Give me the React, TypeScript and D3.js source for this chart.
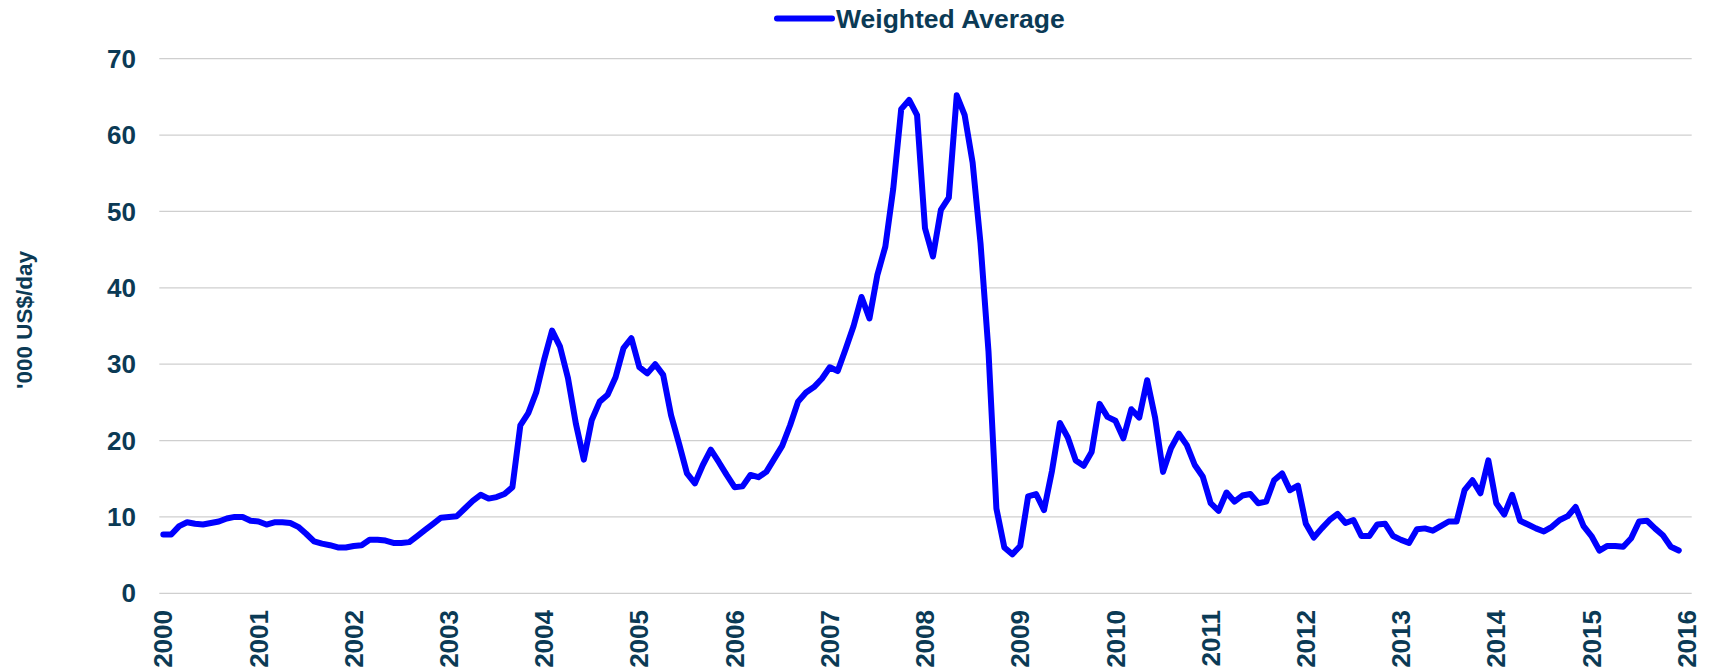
import React, { useEffect, useRef } from "react";
import * as d3 from "d3";

// Monthly weighted average earnings, '000 US$/day, Jan 2000 - Dec 2015
const weightedAverage: number[] = [
  // 2000
  7.7, 7.7, 8.8, 9.3, 9.1, 9.0, 9.2, 9.4, 9.8, 10.0, 10.0, 9.5,
  // 2001
  9.4, 9.0, 9.3, 9.3, 9.2, 8.7, 7.8, 6.8, 6.5, 6.3, 6.0, 6.0,
  // 2002
  6.2, 6.3, 7.0, 7.0, 6.9, 6.6, 6.6, 6.7, 7.5, 8.3, 9.1, 9.9,
  // 2003
  10.0, 10.1, 11.1, 12.1, 12.9, 12.4, 12.6, 13.0, 13.9, 22.0, 23.6, 26.3,
  // 2004
  30.6, 34.4, 32.3, 28.2, 22.2, 17.5, 22.7, 25.1, 26.0, 28.3, 32.1, 33.4,
  // 2005
  29.6, 28.8, 30.0, 28.6, 23.3, 19.6, 15.7, 14.4, 16.8, 18.8, 17.2, 15.5,
  // 2006
  13.9, 14.0, 15.5, 15.2, 15.9, 17.6, 19.3, 22.0, 25.1, 26.3, 27.0, 28.1,
  // 2007
  29.6, 29.1, 32.0, 35.0, 38.8, 36.0, 41.7, 45.4, 53.0, 63.4, 64.6, 62.6,
  // 2008
  47.8, 44.1, 50.2, 51.8, 65.2, 62.6, 56.4, 45.8, 31.7, 11.1, 6.0, 5.1,
  // 2009
  6.2, 12.7, 13.0, 10.9, 16.0, 22.3, 20.4, 17.4, 16.7, 18.5, 24.8, 23.1,
  // 2010
  22.6, 20.3, 24.1, 23.0, 27.9, 23.0, 15.9, 19.0, 20.9, 19.4, 16.8, 15.3,
  // 2011
  11.8, 10.8, 13.2, 12.0, 12.8, 13.0, 11.8, 12.0, 14.8, 15.7, 13.5, 14.1,
  // 2012
  9.1, 7.3, 8.5, 9.6, 10.4, 9.2, 9.6, 7.5, 7.5, 9.0, 9.1, 7.5,
  // 2013
  7.0, 6.6, 8.4, 8.5, 8.2, 8.8, 9.4, 9.4, 13.5, 14.8, 13.1, 17.4,
  // 2014
  11.8, 10.3, 12.9, 9.5, 9.0, 8.5, 8.1, 8.7, 9.6, 10.1, 11.3, 8.8,
  // 2015
  7.5, 5.6, 6.2, 6.2, 6.1, 7.2, 9.4, 9.5, 8.5, 7.6, 6.1, 5.6,
];

const yearLabels = [
  "2000", "2001", "2002", "2003", "2004", "2005", "2006", "2007", "2008",
  "2009", "2010", "2011", "2012", "2013", "2014", "2015", "2016",
];
const yTicks = [0, 10, 20, 30, 40, 50, 60, 70];
const seriesName = "Weighted Average";
const yTitle = "'000 US$/day";

const W = 1712;
const H = 671;
const textColor = "#0b3a55";
const lineColor = "#0000ff";
const font = "'Liberation Sans', Arial, sans-serif";

const App: React.FC = () => {
  const svgRef = useRef<SVGSVGElement>(null);

  useEffect(() => {
    const svg = d3.select(svgRef.current);
    svg.selectAll("*").remove();

    const plotLeft = 159.3;
    const plotRight = 1691.7;

    // months since Jan 2000; 2016 label sits at month 192
    const x = d3.scaleLinear().domain([0, 192]).range([163.3, 1686.7]);
    const y = d3.scaleLinear().domain([0, 70]).range([593.3, 58.7]);

    // Gridlines
    svg
      .append("g")
      .selectAll("line")
      .data(yTicks)
      .join("line")
      .attr("x1", plotLeft)
      .attr("x2", plotRight)
      .attr("y1", (d) => y(d))
      .attr("y2", (d) => y(d))
      .attr("stroke", "#cfcfcf")
      .attr("stroke-width", 1.3);

    // Y tick labels
    svg
      .append("g")
      .selectAll("text")
      .data(yTicks)
      .join("text")
      .attr("x", 136)
      .attr("y", (d) => y(d))
      .attr("dy", "0.35em")
      .attr("text-anchor", "end")
      .style("font-family", font)
      .style("font-weight", "bold")
      .style("font-size", "26px")
      .attr("fill", textColor)
      .text((d) => d);

    // X tick labels (rotated)
    svg
      .append("g")
      .selectAll("text")
      .data(yearLabels)
      .join("text")
      .attr("transform", (_, i) => `translate(${x(i * 12)},610) rotate(-90)`)
      .attr("dy", "0.35em")
      .attr("text-anchor", "end")
      .style("font-family", font)
      .style("font-weight", "bold")
      .style("font-size", "26px")
      .attr("fill", textColor)
      .text((d) => d);

    // Y axis title
    svg
      .append("text")
      .attr("transform", "translate(24,320) rotate(-90)")
      .attr("dy", "0.35em")
      .attr("text-anchor", "middle")
      .style("font-family", font)
      .style("font-weight", "bold")
      .style("font-size", "22.5px")
      .attr("fill", textColor)
      .text(yTitle);

    // Series line
    const line = d3
      .line<number>()
      .x((_, i) => x(i))
      .y((d) => y(d));

    svg
      .append("path")
      .datum(weightedAverage)
      .attr("d", line)
      .attr("fill", "none")
      .attr("stroke", lineColor)
      .attr("stroke-width", 6)
      .attr("stroke-linejoin", "round")
      .attr("stroke-linecap", "round");

    // Legend
    const legend = svg.append("g").attr("transform", "translate(777,18.6)");
    legend
      .append("line")
      .attr("x1", 0)
      .attr("x2", 55)
      .attr("stroke", lineColor)
      .attr("stroke-width", 6)
      .attr("stroke-linecap", "round");
    legend
      .append("text")
      .attr("x", 59)
      .attr("dy", "0.35em")
      .style("font-family", font)
      .style("font-weight", "bold")
      .style("font-size", "26.5px")
      .attr("fill", textColor)
      .text(seriesName);
  }, []);

  return (
    <svg
      ref={svgRef}
      width={W}
      height={H}
      style={{ position: "absolute", left: 0, top: 0, background: "#fff" }}
    />
  );
};

export default App;
